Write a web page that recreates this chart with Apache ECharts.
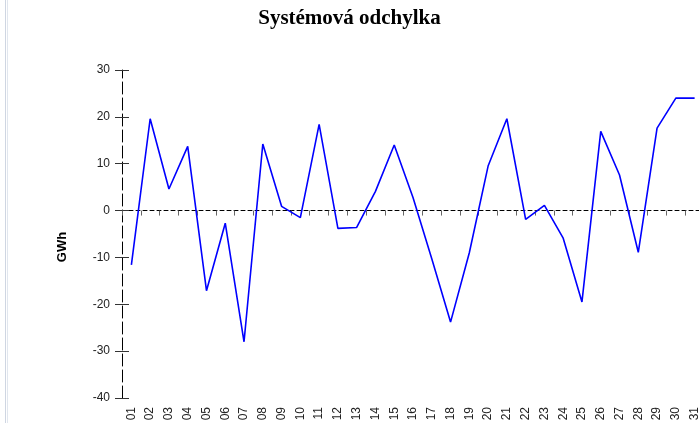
<!DOCTYPE html>
<html>
<head>
<meta charset="utf-8">
<script src="https://cdn.jsdelivr.net/npm/echarts@6/dist/echarts.min.js"></script>
<style>html,body{margin:0;padding:0;background:#fff;}#c{width:699px;height:423px;}</style>
</head>
<body>
<div id="c"></div>
<script>
const categories = ['01','02','03','04','05','06','07','08','09','10','11','12','13','14','15','16','17','18','19','20','21','22','23','24','25','26','27','28','29','30','31'];
const values = [-11.6, 19.6, 4.6, 13.7, -17.1, -2.7, -28.0, 14.2, 0.9, -1.5, 18.4, -3.8, -3.6, 4.1, 14.0, 2.8, -10.3, -23.8, -9.0, 9.5, 19.6, -1.9, 1.1, -5.9, -19.5, 16.9, 7.6, -8.9, 17.6, 24.0, 24.0];
const titleText = 'Systémová odchylka';
const yName = 'GWh';

const chart = echarts.init(document.getElementById('c'), null, {renderer: 'canvas'});
const yCommon = {type: 'value', min: -40, max: 30, interval: 10, splitLine: {show: false}};
chart.setOption({
  animation: false,
  backgroundColor: '#fff',
  title: {
    text: titleText, left: 'center', top: 3,
    textStyle: {fontFamily: 'Liberation Serif', fontWeight: 'bold', fontSize: 21, color: '#000'}
  },
  graphic: [
    {type: 'rect', shape: {x: 5, y: 0, width: 1, height: 423}, style: {fill: '#cfd6e2'}},
    {type: 'rect', shape: {x: 7, y: 0, width: 1, height: 423}, style: {fill: '#e1e6ee'}},
    {type: 'text', x: 62, y: 247, rotation: Math.PI / 2,
     style: {text: yName, fontFamily: 'Liberation Sans', fontWeight: 'bold', fontSize: 13, fill: '#000', align: 'center', verticalAlign: 'middle'}}
  ],
  grid: {left: 122, top: 70, bottom: 25, width: 582, containLabel: false, outerBoundsMode: 'none'},
  xAxis: [
    {type: 'category', data: categories, position: 'bottom', boundaryGap: true,
     axisLine: {show: true, onZero: true, lineStyle: {color: '#000', width: 1, type: [4, 3]}},
     axisTick: {show: true, interval: 0, length: 5, lineStyle: {color: '#666'}},
     axisLabel: {show: false}, splitLine: {show: false}},
    {type: 'category', data: categories, position: 'bottom', boundaryGap: true,
     axisLine: {show: false, onZero: false},
     axisTick: {show: false},
     axisLabel: {show: true, interval: 0, rotate: 90, margin: 9, fontFamily: 'Liberation Sans', fontSize: 12, color: '#222'},
     splitLine: {show: false}}
  ],
  yAxis: [
    Object.assign({}, yCommon, {position: 'left',
     axisLine: {show: true, lineStyle: {color: '#000', width: 1, type: [12, 4]}},
     axisTick: {show: true, inside: false, length: 7, lineStyle: {color: '#333'}},
     axisLabel: {show: true, margin: 12, fontFamily: 'Liberation Sans', fontSize: 12, color: '#222'}}),
    Object.assign({}, yCommon, {position: 'left', offset: 0,
     axisLine: {show: false},
     axisTick: {show: true, inside: true, length: 7, lineStyle: {color: '#333'}},
     axisLabel: {show: false}})
  ],
  series: [{
    type: 'line', data: values, xAxisIndex: 0, yAxisIndex: 0,
    showSymbol: false, symbol: 'none',
    lineStyle: {color: '#0000ff', width: 1.6},
    itemStyle: {color: '#0000ff'}
  }]
});
</script>
</body>
</html>
